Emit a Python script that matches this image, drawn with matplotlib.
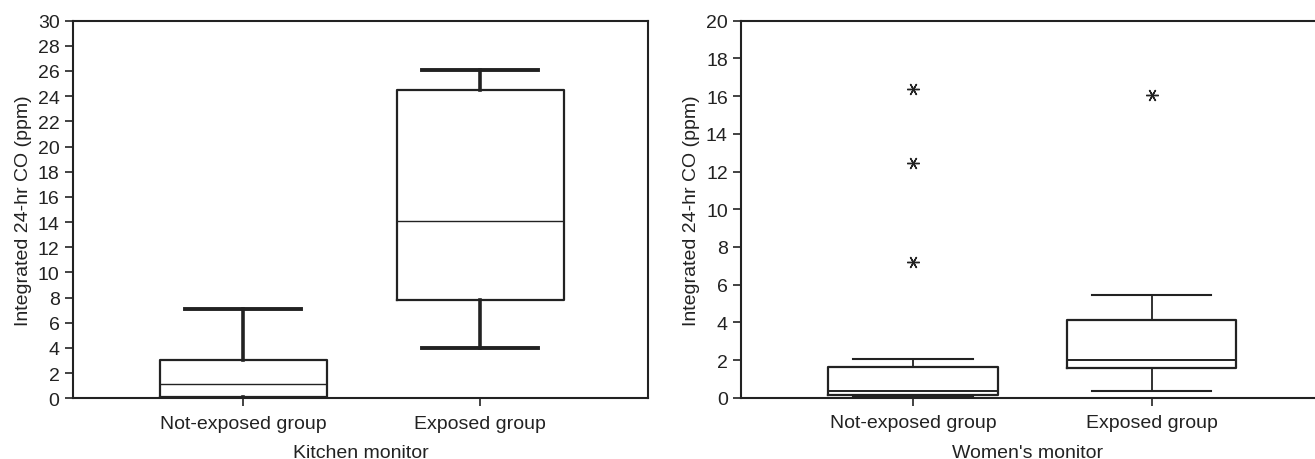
import matplotlib
matplotlib.use("Agg")
import matplotlib.pyplot as plt

plt.rcParams['font.family'] = ['Liberation Sans', 'DejaVu Sans']

groups = ["Not-exposed group", "Exposed group"]

# kitchen monitor summary (ppm)
kit_low = [0.0, 3.96]
kit_q1 = [0.13, 7.78]
kit_med = [1.17, 14.1]
kit_q3 = [3.05, 24.5]
kit_high = [7.09, 26.05]

# women's monitor summary (ppm)
wom_low = [0.02, 0.35]
wom_q1 = [0.16, 1.56]
wom_med = [0.35, 2.02]
wom_q3 = [1.61, 4.1]
wom_high = [2.04, 5.43]
wom_out = [[16.37, 12.46, 7.22], [16.04]]

col = "#222222"
fs = 14


def stats(low, q1, med, q3, high, out=None):
    res = []
    for i in range(len(low)):
        res.append({"whislo": low[i], "q1": q1[i], "med": med[i], "q3": q3[i],
                    "whishi": high[i], "fliers": out[i] if out else [],
                    "label": groups[i]})
    return res


fig = plt.figure(figsize=(13.15, 4.6), dpi=100)
ax1 = fig.add_axes([0.0553, 0.132, 0.4375, 0.821])
ax2 = fig.add_axes([0.5635, 0.133, 0.4365, 0.820])

ax1.bxp(stats(kit_low, kit_q1, kit_med, kit_q3, kit_high), positions=[1, 2],
        widths=0.705, capwidths=0.49, showfliers=False,
        boxprops=dict(color=col, linewidth=1.6),
        whiskerprops=dict(color=col, linewidth=2.6),
        capprops=dict(color=col, linewidth=2.8),
        medianprops=dict(color=col, linewidth=1.0))
ax1.set_ylim(0, 30)
ax1.set_yticks(range(0, 31, 2))
ax1.set_xlim(0.281, 2.709)
ax1.set_xlabel("Kitchen monitor", fontsize=fs, color=col, labelpad=9)

ax2.bxp(stats(wom_low, wom_q1, wom_med, wom_q3, wom_high, wom_out), positions=[1, 2],
        widths=0.71, capwidths=0.5,
        boxprops=dict(color=col, linewidth=1.6),
        whiskerprops=dict(color=col, linewidth=1.3),
        capprops=dict(color=col, linewidth=1.5),
        medianprops=dict(color=col, linewidth=1.4),
        flierprops=dict(marker=(6, 2, 90), markersize=9, markeredgecolor=col,
                        markeredgewidth=1.0, linestyle='none'))
ax2.set_ylim(0, 20)
ax2.set_yticks(range(0, 21, 2))
ax2.set_xlim(0.279, 2.685)
ax2.spines['right'].set_visible(False)
ax2.set_xlabel("Women's monitor", fontsize=fs, color=col, labelpad=9)

for ax in (ax1, ax2):
    ax.set_ylabel("Integrated 24-hr CO (ppm)", fontsize=fs, color=col, labelpad=4)
    ax.set_xticks([1, 2])
    ax.set_xticklabels(groups)
    ax.tick_params(axis='both', labelsize=fs, colors=col, length=6, width=1.2)
    ax.tick_params(axis='x', pad=6)
    for s in ax.spines.values():
        s.set_color(col)
        s.set_linewidth(1.5)

fig.savefig("out.png", dpi=100)
